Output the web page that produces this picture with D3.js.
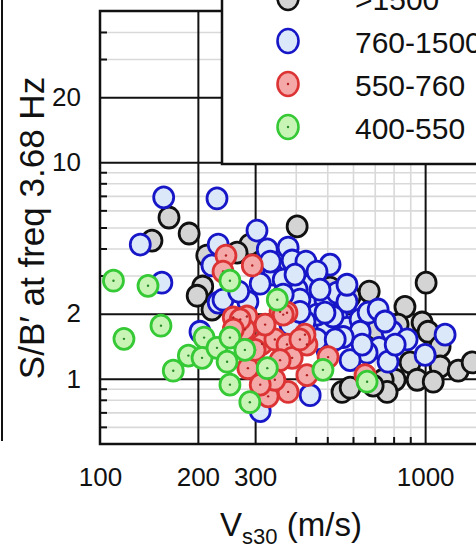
<!DOCTYPE html>
<html>
<head>
<meta charset="utf-8">
<script src="https://cdn.jsdelivr.net/npm/d3@7"></script>
<style>
  body { margin: 0; background: #fff; }
  svg { display: block; font-family: "Liberation Sans", Arial, sans-serif; }
</style>
</head>
<body>
<svg id="chart" width="476" height="546"></svg>
<script>
// values (Vs30 in m/s, S/B' ratio)
const grayVs = [163, 188, 144.5, 213, 207, 199, 221, 289, 264, 404, 510, 588, 673, 867, 1007, 826, 979, 1021, 1112, 1112, 1264, 1395, 899, 945, 809, 1059, 743, 555, 588, 764, 711, 692];
const graySb = [5.56, 4.69, 4.35, 3.71, 2.67, 2.42, 2.09, 4.17, 3.83, 5.06, 2.64, 2.40, 2.53, 2.15, 2.78, 1.78, 1.82, 1.65, 1.41, 1.14, 1.09, 1.19, 1.19, 0.99, 0.99, 0.97, 0.99, 0.87, 0.91, 0.87, 1.69, 0.93];

const blueVs = [157, 229, 133, 155, 231, 221, 231, 203, 304, 327, 379, 390, 430, 510, 341, 311, 436, 404, 449, 533, 492, 285, 239, 412, 465, 536, 536, 575, 631, 668, 717, 791, 880, 722, 769, 663, 588, 499, 499, 465, 1000, 1152, 575, 631, 443, 311, 521, 465, 560, 366, 398, 334, 753, 809, 640, 529, 427, 384, 492, 412, 575, 366, 475, 267];
const blueSb = [6.89, 6.81, 4.17, 2.78, 4.17, 3.34, 2.25, 1.65, 4.84, 3.96, 4.04, 3.52, 3.48, 3.37, 3.03, 2.75, 2.69, 2.58, 2.15, 2.22, 2.32, 2.27, 2.32, 2.32, 3.13, 2.50, 1.96, 1.72, 1.88, 2.02, 2.09, 1.65, 1.52, 1.39, 1.20, 1.32, 1.22, 1.36, 1.74, 1.52, 1.29, 1.60, 2.27, 1.65, 0.84, 0.71, 1.94, 1.98, 1.56, 2.87, 3.03, 3.48, 1.84, 1.44, 1.44, 1.52, 1.84, 1.78, 2.02, 2.04, 2.72, 2.45, 2.58, 2.53];

const redVs = [244, 239, 294, 257, 283, 358, 376, 315, 345, 376, 433, 427, 390, 285, 358, 433, 503, 329, 379, 345, 654, 279, 322, 412, 300, 311, 270, 366, 257];
const redSb = [3.71, 3.13, 3.34, 1.92, 1.94, 2.04, 2.02, 1.45, 1.52, 1.44, 1.44, 1.60, 1.25, 1.12, 1.22, 1.04, 1.26, 0.83, 0.87, 0.99, 1.04, 1.69, 1.78, 1.52, 1.36, 0.94, 1.88, 1.98, 1.69];

const greenVs = [110, 140.5, 118.5, 154, 187, 168, 209, 206, 229, 246, 251, 251, 279, 327, 289, 251, 351, 485, 663];
const greenSb = [2.84, 2.69, 1.53, 1.76, 1.28, 1.09, 1.55, 1.25, 1.39, 1.20, 0.94, 1.55, 1.36, 1.12, 0.78, 2.84, 2.32, 1.10, 0.97];

const legendLabels = [">1500", "760-1500", "550-760", "400-550"];
const xTickLabels = [100, 200, 300, 1000];
const yTickLabels = [1, 2, 10, 20];
const xMajor = [200, 300, 1000];
const yMajor = [1, 2, 10, 20];

const groups = [
  { vs: grayVs,  sb: graySb,  fill: "#d4d4d4", stroke: "#111111", dot: null },
  { vs: blueVs,  sb: blueSb,  fill: "#dbe8fa", stroke: "#1717c8", dot: null },
  { vs: redVs,   sb: redSb,   fill: "#f5a8a8", stroke: "#dc3434", dot: "#b02020" },
  { vs: greenVs, sb: greenSb, fill: "#c8f5b6", stroke: "#36c936", dot: "#2a8a2a" }
];

const svg = d3.select("#chart");
svg.append("rect").attr("width", 476).attr("height", 546).attr("fill", "#fff");

const x = d3.scaleLog().domain([100, 2000]).range([100, 523]);
const y = d3.scaleLog().domain([0.5, 50]).range([444, 11]);
const plotH = y.range()[0] - y.range()[1];
const plotW = x.range()[1] - x.range()[0];

const xMinor = x.ticks().filter(v => !xMajor.includes(v) && v !== 100 && v !== 2000);
const yMinor = y.ticks().filter(v => !yMajor.includes(v) && v !== 0.5 && v !== 50);

// edge of the neighbouring panel on the left
svg.append("line")
  .attr("x1", 2).attr("x2", 2).attr("y1", 0).attr("y2", y(0.5) - 3)
  .attr("stroke", "#111").attr("stroke-width", 2);

// light minor grid
svg.append("g")
  .attr("transform", `translate(0,${y.range()[0]})`)
  .call(d3.axisBottom(x).tickValues(xMinor).tickSize(-plotH).tickFormat(""))
  .call(g => g.select(".domain").remove())
  .call(g => g.selectAll("line").attr("stroke", "#d9d9d9").attr("stroke-width", 1.6));
svg.append("g")
  .attr("transform", `translate(${x.range()[0]},0)`)
  .call(d3.axisLeft(y).tickValues(yMinor).tickSize(-plotW).tickFormat(""))
  .call(g => g.select(".domain").remove())
  .call(g => g.selectAll("line").attr("stroke", "#d9d9d9").attr("stroke-width", 1.6));

// black major grid
svg.append("g")
  .attr("transform", `translate(0,${y.range()[0]})`)
  .call(d3.axisBottom(x).tickValues(xMajor).tickSize(-plotH).tickFormat(""))
  .call(g => g.select(".domain").remove())
  .call(g => g.selectAll("line").attr("stroke", "#111").attr("stroke-width", 2));
svg.append("g")
  .attr("transform", `translate(${x.range()[0]},0)`)
  .call(d3.axisLeft(y).tickValues(yMajor).tickSize(-plotW).tickFormat(""))
  .call(g => g.select(".domain").remove())
  .call(g => g.selectAll("line").attr("stroke", "#111").attr("stroke-width", 2));

// inward minor tick marks
svg.append("g")
  .attr("transform", `translate(0,${y.range()[0]})`)
  .call(d3.axisBottom(x).tickValues(xMinor).tickSize(-7).tickFormat(""))
  .call(g => g.select(".domain").remove())
  .call(g => g.selectAll("line").attr("stroke", "#111").attr("stroke-width", 2));
svg.append("g")
  .attr("transform", `translate(${x.range()[0]},0)`)
  .call(d3.axisLeft(y).tickValues(yMinor).tickSize(-7).tickFormat(""))
  .call(g => g.select(".domain").remove())
  .call(g => g.selectAll("line").attr("stroke", "#111").attr("stroke-width", 2));

// frame
svg.append("rect")
  .attr("x", x.range()[0]).attr("y", y.range()[1])
  .attr("width", plotW).attr("height", plotH)
  .attr("fill", "none").attr("stroke", "#111").attr("stroke-width", 2.5);

// tick labels
svg.append("g")
  .attr("transform", `translate(0,${y.range()[0]})`)
  .call(d3.axisBottom(x).tickValues(xTickLabels).tickSize(0).tickPadding(24).tickFormat(d3.format("d")))
  .call(g => g.select(".domain").remove())
  .call(g => g.selectAll("text").attr("font-size", 26).attr("fill", "#111")
    .attr("font-family", "Liberation Sans, Arial, sans-serif"));
svg.append("g")
  .attr("transform", `translate(${x.range()[0]},0)`)
  .call(d3.axisLeft(y).tickValues(yTickLabels).tickSize(0).tickPadding(19).tickFormat(d3.format("d")))
  .call(g => g.select(".domain").remove())
  .call(g => g.selectAll("text").attr("font-size", 26).attr("fill", "#111")
    .attr("font-family", "Liberation Sans, Arial, sans-serif"));

// points, gray first, green on top
groups.forEach(grp => {
  const pts = grp.vs.map((v, i) => ({ vs: v, sb: grp.sb[i] }));
  const g = svg.append("g");
  g.selectAll("ellipse").data(pts).enter().append("ellipse")
    .attr("cx", d => x(d.vs)).attr("cy", d => y(d.sb))
    .attr("rx", 10).attr("ry", 10.5)
    .attr("fill", grp.fill).attr("stroke", grp.stroke).attr("stroke-width", 2.8);
  if (grp.dot) {
    g.selectAll("circle").data(pts).enter().append("circle")
      .attr("cx", d => x(d.vs)).attr("cy", d => y(d.sb)).attr("r", 1.2)
      .attr("fill", grp.dot);
  }
});

// legend
const leg = svg.append("g");
leg.append("rect")
  .attr("x", 222).attr("y", -10).attr("width", 300).attr("height", 174)
  .attr("fill", "#fff").attr("stroke", "#111").attr("stroke-width", 2.5);
legendLabels.forEach((lab, i) => {
  const cy = -2 + i * 43;
  const grp = groups[i];
  leg.append("ellipse")
    .attr("cx", 288).attr("cy", cy).attr("rx", 10.5).attr("ry", 12)
    .attr("fill", grp.fill).attr("stroke", grp.stroke).attr("stroke-width", 2.6);
  if (grp.dot) {
    leg.append("circle").attr("cx", 288).attr("cy", cy).attr("r", 1.2).attr("fill", grp.dot);
  }
  leg.append("text")
    .attr("x", 355).attr("y", cy + 12)
    .attr("font-size", 30).attr("fill", "#111")
    .text(lab);
});

// axis titles
svg.append("text")
  .attr("transform", "translate(44,228) rotate(-90)")
  .attr("text-anchor", "middle")
  .attr("font-size", 35).attr("fill", "#111")
  .text("S/B\u2032 at freq 3.68 Hz");

const xt = svg.append("text")
  .attr("x", 291).attr("y", 536)
  .attr("text-anchor", "middle")
  .attr("font-size", 33).attr("fill", "#111");
xt.append("tspan").text("V");
xt.append("tspan").attr("font-size", 22).attr("dy", 8).text("s30");
xt.append("tspan").attr("dy", -8).text(" (m/s)");
</script>
</body>
</html>
